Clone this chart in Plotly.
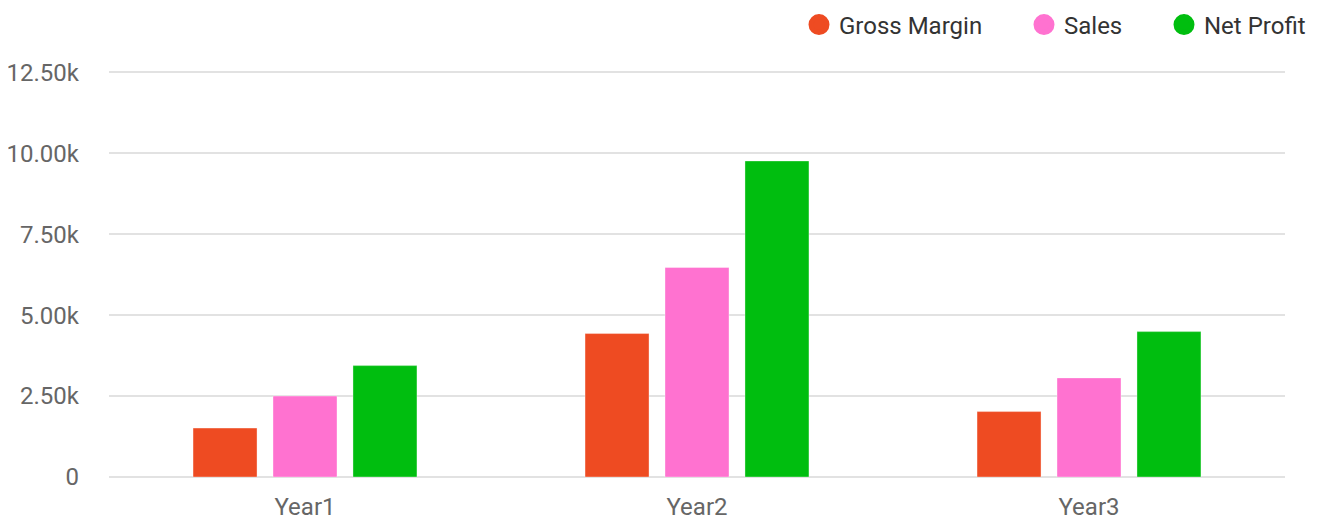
import plotly.graph_objects as go

categories = ["Year1", "Year2", "Year3"]
series_names = ["Gross Margin", "Sales", "Net Profit"]
gross_margin = [1510, 4430, 2020]
sales = [2500, 6470, 3060]
net_profit = [3440, 9760, 4490]
y_tick_vals = [0, 2500, 5000, 7500, 10000, 12500]
y_tick_text = ["0", "2.50k", "5.00k", "7.50k", "10.00k", "12.50k"]

colors = ["#EE4B22", "#FF72D0", "#00BE0F"]
values = [gross_margin, sales, net_profit]
legend_ids = ["legend", "legend2", "legend3"]

# page has an 8px body margin; the figure is sized/placed to compensate
W, H = 1317, 511
legend_x = [791, 1016, 1156]

FONT = "Roboto, 'Noto Sans', sans-serif"

fig = go.Figure()
for name, vals, col in zip(series_names, values, colors):
    fig.add_trace(go.Bar(
        x=categories, y=vals, name=name, showlegend=False,
        marker=dict(color=col, line=dict(color="rgba(255,255,255,0.35)", width=1)),
    ))
for name, col, lid in zip(series_names, colors, legend_ids):
    fig.add_trace(go.Scatter(
        x=[None], y=[None], mode="markers", name=name, legend=lid,
        marker=dict(color=col, size=16, symbol="circle", line=dict(color=col, width=5)),
    ))

leg_common = dict(
    xref="container", yref="container", yanchor="middle", xanchor="left",
    font=dict(family=FONT, size=24, color="#333333"),
    bgcolor="rgba(0,0,0,0)", borderwidth=0, orientation="h",
)
layout_legends = {}
for lid, lx in zip(legend_ids, legend_x):
    layout_legends[lid] = dict(x=lx / W, y=1 - 17 / H, **leg_common)

fig.update_layout(
    width=W, height=H,
    margin=dict(l=101, r=40, t=61, b=42, autoexpand=False),
    paper_bgcolor="white", plot_bgcolor="white",
    barmode="group", bargap=0.388, bargroupgap=0.2,
    font=dict(family=FONT, size=24, color="#666666"),
    **layout_legends,
)
fig.update_xaxes(
    showgrid=False, showline=False, zeroline=False, ticks="",
    tickfont=dict(family=FONT, size=24, color="#666666"),
    ticklabelstandoff=13, automargin=False,
)
fig.update_yaxes(
    range=[0, 12600], tickvals=y_tick_vals, ticktext=y_tick_text,
    showgrid=True, gridcolor="#e2e2e2", gridwidth=1.5,
    zeroline=True, zerolinecolor="#e2e2e2", zerolinewidth=1.5,
    showline=False, ticks="",
    tickfont=dict(family=FONT, size=24, color="#666666"),
    ticklabelstandoff=29, automargin=False,
)

fig.write_html("out.html")
